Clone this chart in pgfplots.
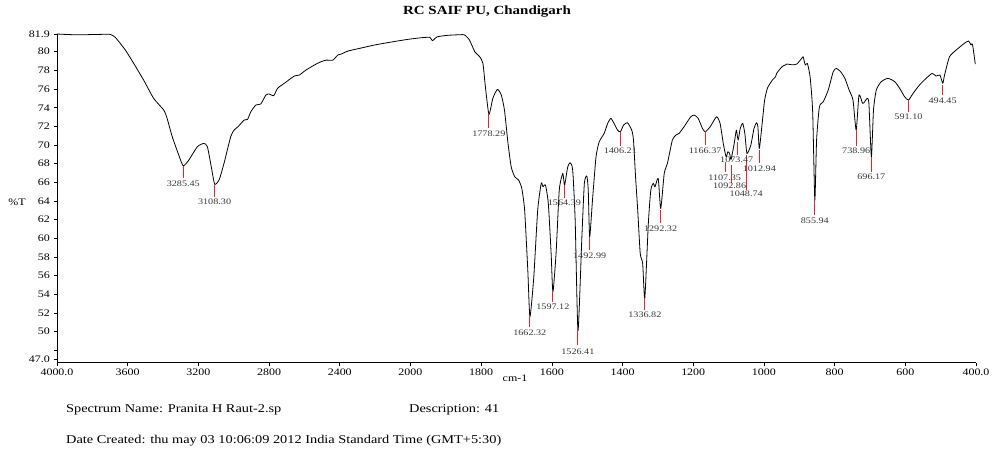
\documentclass[border=0pt]{standalone}
\usepackage{pgfplots}
\usepackage{pgfplotstable}
\pgfplotsset{compat=1.18}
\usepackage{fontspec}
\setmainfont{Liberation Serif}
\definecolor{pk}{RGB}{235,35,35}
\definecolor{lbl}{RGB}{55,55,55}

\pgfplotstableread{
w T
4000 81.90
3950 81.85
3900 81.82
3850 81.82
3800 81.84
3750 81.86
3700 81.86
3670 81.54
3614 80.20
3566 78.75
3510 76.97
3453 75.00
3396 73.75
3377 72.86
3348 70.90
3311 68.93
3286 67.78
3254 68.39
3206 69.82
3169 70.18
3149 69.82
3127 67.67
3108 65.82
3083 66.25
3055 68.04
3017 70.90
2998 71.60
2976 71.96
2941 72.68
2922 72.75
2903 73.57
2875 74.29
2847 74.40
2818 75.36
2799 75.47
2774 75.28
2752 76.08
2714 76.61
2657 77.40
2629 77.50
2591 78.04
2544 78.57
2506 78.93
2477 79.10
2439 79.10
2411 79.65
2392 79.75
2354 80.07
2297 80.32
2203 80.72
2108 81.04
2013 81.33
1969 81.50
1945 81.54
1938 81.18
1924 81.60
1894 81.76
1861 81.82
1847 81.80
1833 81.25
1818 80.00
1804 79.46
1795 78.75
1788 76.25
1778 73.30
1767 75.00
1754 75.97
1743 75.36
1734 73.75
1724 70.18
1715 67.67
1705 66.60
1694 66.25
1685 65.36
1677 63.03
1668 56.60
1662 51.60
1651 55.90
1640 63.03
1630 65.90
1625 65.53
1618 65.71
1610 63.75
1602 58.39
1597 54.27
1588 58.40
1579 65.18
1569 66.96
1564 65.71
1555 67.67
1548 68.10
1541 67.32
1534 61.96
1526 50.10
1515 60.17
1508 65.90
1501 66.68
1497 65.18
1493 60.17
1485 64.10
1475 68.74
1466 70.35
1452 71.25
1442 72.32
1433 72.86
1424 72.32
1414 71.60
1406 71.42
1397 72.14
1386 72.39
1374 71.60
1369 70.53
1363 66.50
1357 63.00
1350 58.40
1343 57.30
1337 53.60
1327 61.60
1320 65.18
1313 65.90
1308 65.53
1299 66.43
1292 63.20
1282 66.96
1273 68.04
1259 70.53
1249 71.07
1240 71.25
1226 71.96
1207 73.03
1197 73.21
1186 72.86
1174 71.79
1166 71.42
1152 71.96
1134 73.03
1124 72.32
1115 70.18
1107 68.74
1102 69.28
1097 69.10
1093 68.46
1084 70.18
1078 71.60
1073 70.53
1067 71.79
1060 72.32
1054 71.25
1048 69.10
1037 70.00
1028 71.79
1021 72.39
1017 71.96
1013 69.64
1005 72.32
998 74.80
990 76.10
976 76.97
967 77.32
964 77.68
949 78.39
940 78.57
935 78.68
920 78.60
907 78.68
893 79.29
889 79.46
883 78.57
877 78.75
869 77.20
862 73.50
856 64.10
851 70.53
843 74.10
832 74.64
818 75.90
804 77.86
795 78.21
783 77.86
771 77.15
759 75.90
748 74.82
739 71.60
731 75.36
721 74.47
715 74.64
708 75.00
703 74.47
696 68.74
690 73.75
682 75.90
668 76.79
649 77.15
630 76.79
616 76.08
602 75.18
591 74.82
578 75.54
560 76.43
541 77.15
524 77.68
513 77.39
502 77.50
494 76.61
489 77.50
475 79.46
456 80.18
433 80.90
421 81.15
414 80.72
410 80.82
402 78.68
}\spectrum

\pgfplotstableread{
w top len lx ly lab
3285.45 67.75 1.29 3285.45 65.82 3285.45
3108.30 65.82 1.40 3108.30 63.89 3108.30
1778.29 73.32 1.50 1778.29 71.18 1778.29
1662.32 51.56 1.07 1662.32 49.84 1662.32
1597.12 54.24 1.07 1597.12 52.66 1597.12
1564.39 65.71 1.39 1564.39 63.78 1564.39
1526.41 50.17 1.61 1526.41 47.81 1526.41
1492.99 60.14 1.39 1492.99 58.10 1492.99
1406.21 71.39 1.50 1406.21 69.36 1406.21
1336.82 53.60 1.29 1336.82 51.77 1336.82
1292.32 63.03 1.39 1292.32 60.99 1292.32
1166.37 71.50 1.50 1166.37 69.36 1166.37
1107.35 68.18 1.08 1111 66.46 1107.35
1092.86 67.85 1.93 1097 65.60 1092.86
1073.47 70.31 1.38 1077 68.39 1073.47
1048.74 68.93 3.75 1050 64.75 1048.74
1012.94 69.46 1.39 1012.94 67.43 1012.94
855.94 64.10 1.60 855.94 61.85 855.94
738.96 71.60 1.71 738.96 69.36 738.96
696.17 68.70 1.60 696.17 66.57 696.17
591.10 74.82 1.29 591.10 73.00 591.10
494.45 76.43 1.07 494.45 74.71 494.45
}\peaks

\begin{document}
\begin{tikzpicture}
\useasboundingbox (0,0) rectangle (992bp,455bp);
\begin{axis}[
  at={(57bp,92.3bp)}, anchor=south west,
  scale only axis, width=919bp, height=328.7bp,
  x dir=reverse,
  xmin=400, xmax=4000, ymin=46.68, ymax=81.9,
  x coord trafo/.code={\pgfmathparse{#1>2000 ? 2000+(#1-2000)/2 : #1}},
  x coord inv trafo/.code={\pgfmathparse{#1>2000 ? 2000+(#1-2000)*2 : #1}},
  axis lines*=left,
  axis line style={black, line width=0.8pt},
  tick align=outside,
  major tick length=3bp,
  tick style={black, line width=0.6pt},
  xtick={4000,3600,3200,2800,2400,2000,1800,1600,1400,1200,1000,800,600,400},
  xticklabels={4000.0,3600,3200,2800,2400,2000,1800,1600,1400,1200,1000,800,600,400.0},
  ytick={47,48,50,52,54,56,58,60,62,64,66,68,70,72,74,76,78,80,81.9},
  yticklabels={47.0,{},50,52,54,56,58,60,62,64,66,68,70,72,74,76,78,80,81.9},
  xticklabel style={font=\fontsize{10}{12}\selectfont, xscale=1.2},
  yticklabel style={font=\fontsize{10}{12}\selectfont, xscale=1.2},
  clip=false,
]
\addplot[black, line width=0.8pt, line join=round, smooth, tension=0.35] table[x=w, y=T] {\spectrum};
\addplot[draw=none, mark=none,
  error bars/.cd, y dir=minus, y explicit,
  error bar style={pk, line width=1pt}, error mark=none]
  table[x=w, y=top, y error=len] {\peaks};
\addplot[draw=none, mark=none, nodes near coords, point meta=explicit symbolic,
  nodes near coords style={anchor=center, inner sep=0pt, text=lbl,
    font=\fontsize{8.5}{10}\selectfont, xscale=1.2}]
  table[x=lx, y=ly, meta=lab] {\peaks};
\end{axis}
\node[font=\bfseries\fontsize{12.5}{14}\selectfont, xscale=1.2] at (487bp,443bp) {RC SAIF PU, Chandigarh};
\node[font=\fontsize{10}{12}\selectfont, xscale=1.2] at (17bp,253bp) {\%T};
\node[font=\fontsize{10}{12}\selectfont, xscale=1.2] at (515bp,77bp) {cm-1};
\node[font=\fontsize{12}{14}\selectfont, xscale=1.2, anchor=west] at (62bp,45bp) {Spectrum Name: Pranita H Raut-2.sp};
\node[font=\fontsize{12}{14}\selectfont, xscale=1.2, anchor=west] at (405bp,45bp) {Description: 41};
\node[font=\fontsize{12}{14}\selectfont, xscale=1.2, anchor=west] at (62bp,14bp) {Date Created: thu may 03 10:06:09 2012 India Standard Time (GMT+5:30)};
\end{tikzpicture}
\end{document}
